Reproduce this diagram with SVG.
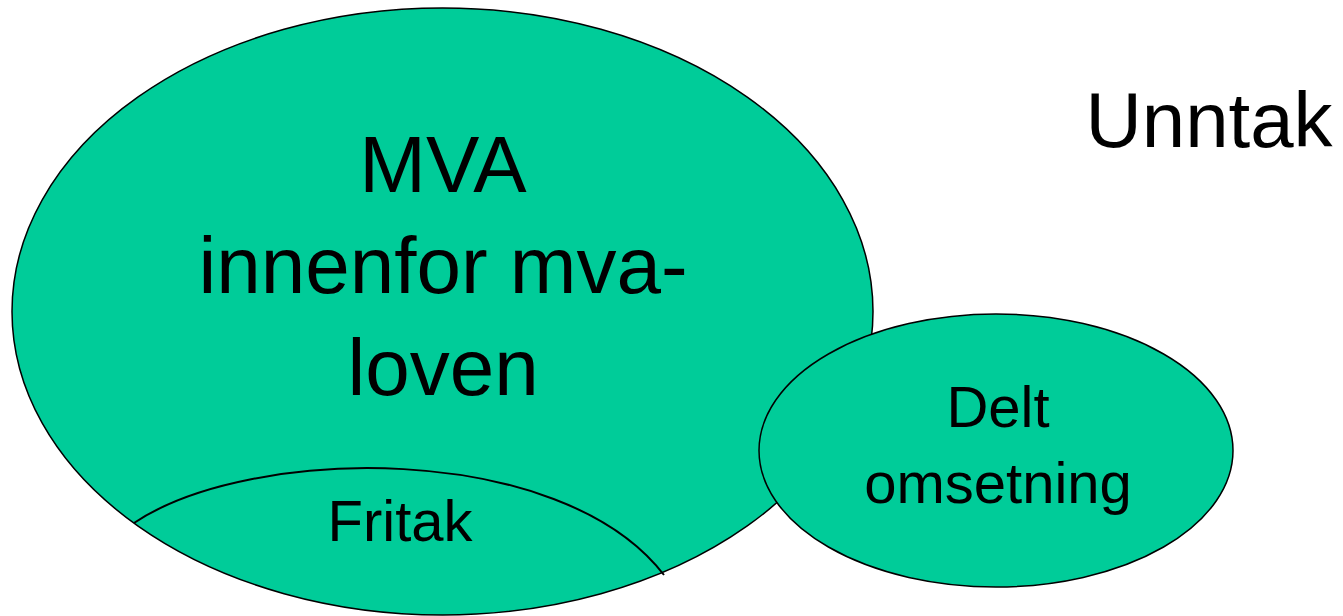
<svg xmlns="http://www.w3.org/2000/svg" width="1343" height="616" viewBox="0 0 1343 616">
<style>
.shape{fill:#00CC99;stroke:#000;stroke-width:1.5}
.line{fill:none;stroke:#000;stroke-width:2}
text{font-family:"Liberation Sans",Arial,sans-serif;fill:#000;text-anchor:middle}
</style>
<rect width="1343" height="616" fill="#fff"/>
<g id="mva">
<ellipse class="shape" cx="442.5" cy="311.5" rx="430.5" ry="303.5"/>
<text x="443" y="192" font-size="80">MVA</text>
<text x="443" y="293" font-size="80">innenfor mva-</text>
<text x="443" y="395" font-size="80">loven</text>
</g>
<g id="fritak">
<path class="line" d="M134,523 C250,445 560,440 664,575"/>
<text x="400" y="541" font-size="58">Fritak</text>
</g>
<g id="delt">
<ellipse class="shape" cx="996" cy="450.5" rx="237" ry="136.5"/>
<text x="998" y="427" font-size="58">Delt</text>
<text x="998" y="503" font-size="58">omsetning</text>
</g>
<g id="unntak">
<text x="1209" y="147" font-size="78">Unntak</text>
</g>
<g id="connectors"/>
</svg>
